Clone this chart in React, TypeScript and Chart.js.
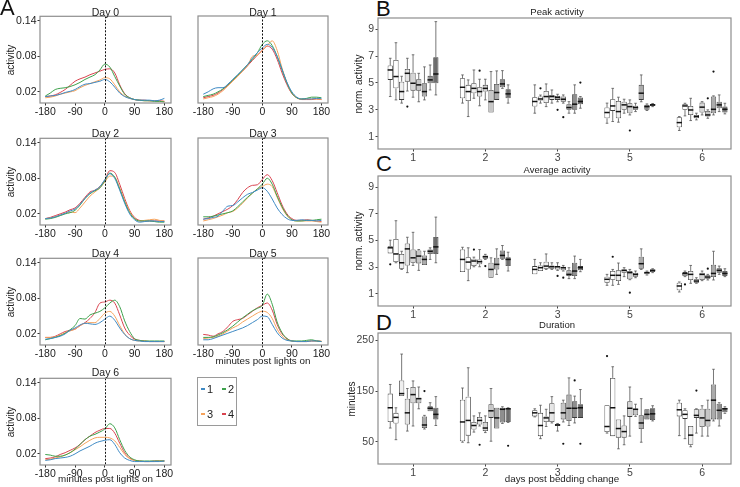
import React, { useEffect, useRef } from 'react';
import { Chart, registerables } from 'chart.js';

Chart.register(...registerables);

const FONT = "'Liberation Sans', Arial, Helvetica, sans-serif";

// ---------------- Panel A: activity curves ----------------
const MINUTES = [-180, -165, -150, -135, -120, -105, -90, -75, -60, -45, -30, -15, 0, 15, 30, 45, 60, 75, 90, 105, 120, 135, 150, 165, 180];
const X_TICKS_A = [-180, -90, 0, 90, 180];
const Y_TICKS_A = [0.02, 0.08, 0.14];
const SERIES_LABELS = ['1', '2', '3', '4'];
const SERIES_COLORS = ['#3f8ac4', '#3da14c', '#f6a35c', '#d9434f'];
const DAY_TITLES = ['Day 0', 'Day 1', 'Day 2', 'Day 3', 'Day 4', 'Day 5', 'Day 6'];

const day0_1 = [0.012, 0.013, 0.014, 0.016, 0.019, 0.021, 0.024, 0.029, 0.033, 0.034, 0.036, 0.038, 0.041, 0.037, 0.028, 0.018, 0.012, 0.009, 0.007, 0.006, 0.006, 0.006, 0.005, 0.006, 0.009];
const day0_2 = [0.013, 0.018, 0.024, 0.026, 0.027, 0.029, 0.032, 0.036, 0.041, 0.045, 0.049, 0.057, 0.067, 0.062, 0.046, 0.030, 0.016, 0.010, 0.007, 0.006, 0.005, 0.005, 0.004, 0.004, 0.003];
const day0_3 = [0.010, 0.011, 0.013, 0.016, 0.018, 0.020, 0.022, 0.027, 0.031, 0.034, 0.037, 0.040, 0.044, 0.042, 0.032, 0.020, 0.013, 0.009, 0.007, 0.006, 0.005, 0.005, 0.005, 0.004, 0.004];
const day0_4 = [0.012, 0.013, 0.015, 0.019, 0.024, 0.031, 0.038, 0.042, 0.045, 0.049, 0.052, 0.055, 0.058, 0.059, 0.052, 0.032, 0.017, 0.010, 0.007, 0.006, 0.006, 0.005, 0.005, 0.005, 0.004];

const day1_1 = [0.016, 0.020, 0.025, 0.027, 0.027, 0.033, 0.041, 0.049, 0.057, 0.066, 0.077, 0.086, 0.094, 0.100, 0.095, 0.080, 0.058, 0.036, 0.020, 0.011, 0.008, 0.008, 0.008, 0.009, 0.009];
const day1_2 = [0.012, 0.014, 0.016, 0.020, 0.025, 0.032, 0.040, 0.048, 0.057, 0.066, 0.075, 0.086, 0.100, 0.106, 0.098, 0.080, 0.057, 0.035, 0.018, 0.010, 0.008, 0.009, 0.011, 0.011, 0.010];
const day1_3 = [0.008, 0.010, 0.012, 0.016, 0.022, 0.030, 0.038, 0.046, 0.055, 0.064, 0.080, 0.082, 0.090, 0.098, 0.106, 0.090, 0.060, 0.035, 0.018, 0.010, 0.008, 0.008, 0.008, 0.008, 0.007];
const day1_4 = [0.010, 0.012, 0.014, 0.018, 0.024, 0.031, 0.039, 0.047, 0.055, 0.064, 0.073, 0.082, 0.090, 0.097, 0.092, 0.075, 0.052, 0.032, 0.017, 0.010, 0.007, 0.007, 0.007, 0.008, 0.007];

const day2_1 = [0.012, 0.013, 0.015, 0.018, 0.021, 0.025, 0.028, 0.036, 0.046, 0.055, 0.060, 0.066, 0.078, 0.088, 0.080, 0.060, 0.038, 0.020, 0.010, 0.006, 0.007, 0.008, 0.008, 0.007, 0.007];
const day2_2 = [0.011, 0.012, 0.014, 0.017, 0.020, 0.022, 0.026, 0.035, 0.046, 0.054, 0.059, 0.064, 0.076, 0.089, 0.082, 0.062, 0.040, 0.022, 0.012, 0.008, 0.008, 0.008, 0.007, 0.006, 0.006];
const day2_3 = [0.012, 0.013, 0.015, 0.018, 0.021, 0.023, 0.022, 0.030, 0.040, 0.050, 0.057, 0.064, 0.074, 0.084, 0.082, 0.064, 0.042, 0.024, 0.012, 0.008, 0.009, 0.010, 0.011, 0.009, 0.008];
const day2_4 = [0.012, 0.014, 0.017, 0.020, 0.023, 0.027, 0.030, 0.038, 0.048, 0.057, 0.060, 0.066, 0.077, 0.093, 0.090, 0.070, 0.046, 0.026, 0.014, 0.009, 0.008, 0.008, 0.008, 0.008, 0.008];

const day3_1 = [0.011, 0.012, 0.014, 0.016, 0.025, 0.033, 0.034, 0.040, 0.047, 0.053, 0.056, 0.060, 0.064, 0.058, 0.045, 0.030, 0.019, 0.012, 0.009, 0.009, 0.010, 0.009, 0.009, 0.008, 0.009];
const day3_2 = [0.015, 0.015, 0.016, 0.018, 0.020, 0.022, 0.025, 0.032, 0.040, 0.048, 0.055, 0.062, 0.070, 0.080, 0.070, 0.050, 0.032, 0.018, 0.010, 0.008, 0.008, 0.009, 0.009, 0.010, 0.011];
const day3_3 = [0.008, 0.010, 0.012, 0.015, 0.018, 0.022, 0.024, 0.030, 0.038, 0.047, 0.055, 0.062, 0.066, 0.070, 0.066, 0.048, 0.030, 0.017, 0.010, 0.008, 0.008, 0.008, 0.008, 0.007, 0.006];
const day3_4 = [0.011, 0.013, 0.016, 0.020, 0.024, 0.028, 0.034, 0.044, 0.056, 0.064, 0.068, 0.069, 0.078, 0.086, 0.076, 0.056, 0.035, 0.020, 0.012, 0.009, 0.009, 0.010, 0.009, 0.008, 0.007];

const day4_1 = [0.011, 0.012, 0.014, 0.016, 0.020, 0.026, 0.030, 0.035, 0.038, 0.037, 0.036, 0.039, 0.045, 0.050, 0.043, 0.030, 0.019, 0.012, 0.009, 0.008, 0.007, 0.007, 0.007, 0.007, 0.007];
const day4_2 = [0.010, 0.012, 0.014, 0.017, 0.021, 0.027, 0.034, 0.046, 0.045, 0.052, 0.055, 0.058, 0.064, 0.072, 0.077, 0.066, 0.042, 0.024, 0.012, 0.009, 0.008, 0.008, 0.008, 0.008, 0.008];
const day4_3 = [0.014, 0.014, 0.015, 0.018, 0.022, 0.025, 0.028, 0.034, 0.038, 0.039, 0.039, 0.046, 0.055, 0.058, 0.050, 0.034, 0.020, 0.012, 0.009, 0.008, 0.008, 0.007, 0.007, 0.007, 0.007];
const day4_4 = [0.014, 0.014, 0.016, 0.020, 0.024, 0.026, 0.028, 0.034, 0.039, 0.046, 0.056, 0.072, 0.074, 0.077, 0.072, 0.052, 0.030, 0.018, 0.011, 0.009, 0.008, 0.007, 0.007, 0.007, 0.007];

const day5_1 = [0.010, 0.010, 0.012, 0.015, 0.018, 0.021, 0.024, 0.027, 0.030, 0.034, 0.039, 0.044, 0.050, 0.049, 0.036, 0.022, 0.013, 0.009, 0.008, 0.007, 0.007, 0.007, 0.008, 0.008, 0.007];
const day5_2 = [0.014, 0.014, 0.015, 0.018, 0.022, 0.027, 0.033, 0.040, 0.047, 0.053, 0.059, 0.063, 0.068, 0.087, 0.070, 0.040, 0.022, 0.012, 0.008, 0.008, 0.008, 0.009, 0.010, 0.008, 0.007];
const day5_3 = [0.012, 0.013, 0.014, 0.016, 0.020, 0.025, 0.030, 0.034, 0.040, 0.045, 0.050, 0.055, 0.058, 0.056, 0.046, 0.028, 0.016, 0.010, 0.008, 0.007, 0.007, 0.007, 0.008, 0.008, 0.008];
const day5_4 = [0.019, 0.018, 0.016, 0.020, 0.024, 0.032, 0.041, 0.044, 0.046, 0.052, 0.058, 0.064, 0.068, 0.072, 0.060, 0.036, 0.020, 0.012, 0.008, 0.007, 0.007, 0.007, 0.008, 0.008, 0.007];

const day6_1 = [0.009, 0.010, 0.012, 0.013, 0.014, 0.016, 0.020, 0.025, 0.029, 0.033, 0.038, 0.041, 0.043, 0.044, 0.036, 0.022, 0.013, 0.009, 0.007, 0.007, 0.007, 0.007, 0.007, 0.007, 0.008];
const day6_2 = [0.019, 0.018, 0.016, 0.016, 0.018, 0.022, 0.028, 0.036, 0.044, 0.050, 0.053, 0.057, 0.062, 0.071, 0.064, 0.044, 0.026, 0.015, 0.010, 0.008, 0.008, 0.008, 0.008, 0.008, 0.008];
const day6_3 = [0.010, 0.011, 0.013, 0.015, 0.018, 0.022, 0.027, 0.032, 0.038, 0.043, 0.047, 0.048, 0.048, 0.047, 0.042, 0.031, 0.019, 0.012, 0.009, 0.008, 0.007, 0.007, 0.007, 0.008, 0.008];
const day6_4 = [0.012, 0.013, 0.015, 0.019, 0.022, 0.026, 0.030, 0.036, 0.044, 0.050, 0.056, 0.060, 0.063, 0.063, 0.055, 0.038, 0.022, 0.013, 0.009, 0.008, 0.007, 0.007, 0.008, 0.008, 0.008];

const DAY_SERIES = [
  [day0_1, day0_2, day0_3, day0_4],
  [day1_1, day1_2, day1_3, day1_4],
  [day2_1, day2_2, day2_3, day2_4],
  [day3_1, day3_2, day3_3, day3_4],
  [day4_1, day4_2, day4_3, day4_4],
  [day5_1, day5_2, day5_3, day5_4],
  [day6_1, day6_2, day6_3, day6_4],
];

// ---------------- Panels B-D: box plots ----------------
const GROUP_LABELS = ['1', '2', '3', '5', '6'];
const BOX_FILLS = ['#ffffff', '#ffffff', '#efefef', '#e6e6e6', '#d6d6d6', '#c6c6c6', '#ababab', '#8e8e8e', '#6c6c6c'];
const NORM_TICKS = [1, 3, 5, 7, 9];
const DUR_TICKS = [50, 150, 250];

// rows = groups (days), columns = box 1..9
const peakHi = [[6.84, 8.0, 5.5, 6.84, 7.1, 5.72, 6.2, 6.34, 9.57], [5.6, 5.23, 5.97, 5.28, 5.28, 5.85, 5.9, 5.92, 4.86], [4.86, 4.1, 4.93, 4.48, 4.16, 4.11, 3.61, 4.86, 3.99], [3.5, 4.6, 3.94, 3.79, 3.74, 3.49, 5.6, 3.44, 3.47], [2.5, 3.49, 3.86, 2.75, 3.61, 3.0, 4.04, 4.11, 3.49]];
const peakQ3 = [[6.3, 6.72, 5.1, 6.05, 5.77, 5.28, 4.98, 5.53, 6.92], [5.35, 4.86, 4.98, 4.68, 4.86, 4.48, 4.93, 5.28, 4.53], [3.94, 3.99, 4.41, 4.11, 4.04, 3.99, 3.42, 4.16, 3.92], [3.17, 3.79, 3.66, 3.6, 3.49, 3.3, 4.86, 3.37, 3.44], [2.45, 3.44, 3.29, 2.62, 3.54, 2.92, 3.99, 3.6, 3.24]];
const peakMed = [[5.97, 5.48, 4.36, 5.72, 4.98, 4.86, 4.36, 5.23, 5.67], [4.68, 4.36, 4.6, 4.36, 4.6, 3.61, 4.29, 4.93, 4.19], [3.62, 3.81, 3.99, 3.99, 3.92, 3.79, 3.17, 3.42, 3.62], [2.8, 3.29, 2.87, 3.37, 3.24, 3.17, 4.24, 3.24, 3.37], [2.05, 3.29, 2.99, 2.5, 3.2, 2.62, 3.04, 3.37, 3.04]];
const peakQ1 = [[5.23, 4.6, 3.74, 5.1, 4.43, 4.43, 3.99, 4.98, 4.98], [3.86, 3.66, 4.24, 3.99, 4.36, 2.8, 3.74, 4.68, 3.86], [3.24, 3.69, 3.5, 3.74, 3.74, 3.61, 3.0, 3.0, 3.42], [2.37, 2.92, 2.37, 3.0, 2.75, 3.0, 3.74, 3.0, 3.29], [1.7, 3.0, 2.62, 2.37, 2.8, 2.5, 2.75, 3.12, 2.8]];
const peakLo = [[3.99, 3.74, 3.5, 4.4, 3.94, 3.6, 3.74, 4.48, 4.11], [3.5, 2.5, 3.86, 3.3, 3.74, 2.8, 3.74, 4.6, 3.5], [2.75, 3.5, 3.24, 3.5, 3.6, 3.5, 2.75, 2.75, 3.12], [2.0, 2.13, 2.08, 2.75, 2.62, 2.87, 3.6, 2.95, 3.24], [1.46, 2.55, 2.2, 2.25, 2.62, 2.37, 2.62, 2.87, 2.7]];
const peakOut = [[0, 3, 3.24], [1, 3, 5.92], [2, 1, 4.6], [2, 4, 3.0], [2, 5, 2.45], [2, 8, 5.03], [3, 4, 1.46], [4, 5, 3.86], [4, 6, 5.85]];

const avgHi = [[5.03, 6.49, 4.2, 5.25, 5.62, 4.33, 4.2, 4.46, 6.76], [4.5, 4.46, 3.76, 4.33, 3.97, 3.71, 4.38, 4.63, 4.13], [3.59, 3.34, 4.0, 3.34, 3.34, 3.14, 2.97, 3.84, 3.59], [2.47, 2.84, 3.32, 2.97, 2.84, 2.72, 4.38, 2.72, 2.89], [1.9, 2.72, 3.14, 2.22, 2.72, 2.47, 4.2, 3.09, 2.89]];
const avgQ3 = [[4.58, 5.12, 4.0, 4.78, 4.33, 4.26, 3.89, 4.33, 5.27], [4.33, 3.76, 3.64, 3.59, 3.89, 3.34, 3.71, 4.26, 3.76], [3.09, 3.14, 3.42, 3.14, 3.09, 3.02, 2.77, 3.34, 3.09], [2.3, 2.72, 2.77, 2.84, 2.72, 2.6, 3.79, 2.67, 2.84], [1.85, 2.64, 2.72, 2.1, 2.6, 2.4, 3.19, 2.92, 2.72]];
const avgMed = [[4.46, 4.0, 3.34, 4.38, 3.71, 3.84, 3.59, 4.2, 4.53], [3.59, 3.39, 3.47, 3.42, 3.79, 2.84, 3.22, 3.89, 3.59], [2.84, 2.97, 3.09, 3.04, 3.04, 2.97, 2.47, 2.72, 2.97], [2.1, 2.4, 2.4, 2.77, 2.6, 2.47, 3.27, 2.6, 2.77], [1.6, 2.52, 2.47, 1.97, 2.47, 2.27, 2.54, 2.77, 2.54]];
const avgQ1 = [[4.04, 3.39, 2.89, 3.14, 3.34, 3.29, 3.17, 4.0, 4.0], [2.64, 2.84, 3.09, 3.22, 3.64, 2.22, 2.84, 3.64, 3.09], [2.47, 2.72, 2.89, 2.89, 2.84, 2.77, 2.35, 2.35, 2.77], [1.85, 2.07, 1.97, 2.6, 2.1, 2.3, 2.89, 2.47, 2.64], [1.28, 2.35, 2.05, 1.85, 2.05, 2.15, 2.27, 2.6, 2.35]];
const avgLo = [[4.04, 3.34, 2.84, 2.6, 3.14, 2.77, 3.17, 3.59, 3.34], [2.64, 2.0, 3.04, 3.04, 3.59, 2.22, 2.47, 3.59, 2.72], [2.47, 2.72, 2.84, 2.84, 2.77, 2.72, 2.15, 2.15, 2.67], [1.65, 1.65, 1.72, 2.3, 2.07, 2.22, 2.84, 2.42, 2.6], [1.15, 2.3, 1.8, 1.8, 2.0, 2.05, 2.05, 2.47, 2.3]];
const avgOut = [[0, 0, 3.22], [1, 2, 4.33], [1, 4, 3.09], [2, 4, 2.35], [2, 5, 2.22], [3, 1, 3.79], [3, 4, 1.1], [4, 1, 1.72], [4, 5, 2.9]];

const durHi = [[163, 117, 223, 155, 170, 158, 102, 127, 139], [156, 196, 101, 107, 101, 155, 117, 119, 117], [115, 122, 114, 139, 86, 132, 176, 140, 153], [122, 198, 94, 101, 158, 124, 135, 114, 121], [132, 115, 81, 115, 121, 132, 193, 127, 119]];
const durQ3 = [[145, 107, 171, 135, 158, 137, 100, 120, 117], [133, 139, 89, 99, 89, 124, 117, 117, 116], [112, 107, 100, 126, 85, 127, 143, 130, 124], [122, 176, 94, 82, 130, 115, 102, 114, 116], [127, 112, 81, 114, 115, 115, 163, 125, 117]];
const durMed = [[117, 98, 145, 107, 143, 135, 83, 116, 104], [89, 92, 82, 92, 77, 111, 97, 114, 115], [107, 82, 97, 107, 83, 107, 116, 116, 117], [80, 117, 76, 70, 116, 114, 87, 104, 105], [113, 104, 63, 102, 97, 92, 132, 112, 115]];
const durQ1 = [[89, 86, 140, 84, 126, 126, 77, 110, 94], [51, 62, 74, 84, 71, 97, 76, 88, 89], [100, 61, 89, 89, 81, 94, 91, 97, 97], [69, 61, 58, 58, 99, 102, 75, 94, 93], [100, 95, 44, 97, 79, 80, 94, 94, 108]];
const durLo = [[77, 54, 140, 71, 81, 115, 75, 110, 82], [49, 48, 69, 81, 68, 51, 76, 86, 88], [99, 56, 80, 87, 71, 89, 82, 87, 97], [67, 61, 36, 44, 61, 100, 49, 94, 91], [62, 56, 40, 67, 61, 61, 91, 81, 106]];
const durOut = [[0, 6, 150], [1, 3, 44], [1, 8, 42], [2, 5, 46], [2, 8, 46], [2, 7, 171], [3, 0, 219], [4, 3, 151]];

// ---------------- plugins ----------------
const frameLine = {
  id: 'frameLine',
  afterDatasetsDraw(chart: any, _args: any, opts: any) {
    const { ctx, chartArea: a } = chart;
    ctx.save();
    if (opts && opts.zeroLine) {
      const x = chart.scales.x.getPixelForValue(0);
      ctx.strokeStyle = '#111';
      ctx.lineWidth = 1;
      ctx.setLineDash([2, 1.5]);
      ctx.beginPath();
      ctx.moveTo(Math.round(x) + 0.5, a.top);
      ctx.lineTo(Math.round(x) + 0.5, a.bottom);
      ctx.stroke();
      ctx.setLineDash([]);
    }
    ctx.strokeStyle = '#8e8e8e';
    ctx.lineWidth = 1.2;
    ctx.strokeRect(a.left, a.top, a.right - a.left, a.bottom - a.top);
    ctx.restore();
  },
};

const boxExtras = {
  id: 'boxExtras',
  afterDatasetsDraw(chart: any) {
    const ctx = chart.ctx;
    const ys = chart.scales.y;
    ctx.save();
    chart.data.datasets.forEach((ds: any, d: number) => {
      const meta = chart.getDatasetMeta(d);
      meta.data.forEach((el: any, g: number) => {
        const st = ds.stats[g];
        const x = el.x;
        const w = el.width;
        const pHi = ys.getPixelForValue(st.hi);
        const pLo = ys.getPixelForValue(st.lo);
        const pQ3 = ys.getPixelForValue(st.q3);
        const pQ1 = ys.getPixelForValue(st.q1);
        const pMed = ys.getPixelForValue(st.med);
        ctx.strokeStyle = '#555';
        ctx.lineWidth = 0.8;
        ctx.beginPath();
        ctx.moveTo(x, pQ3);
        ctx.lineTo(x, pHi);
        ctx.moveTo(x, pQ1);
        ctx.lineTo(x, pLo);
        if (st.hi > st.q3) {
          ctx.moveTo(x - w * 0.25, pHi);
          ctx.lineTo(x + w * 0.25, pHi);
        }
        if (st.lo < st.q1) {
          ctx.moveTo(x - w * 0.25, pLo);
          ctx.lineTo(x + w * 0.25, pLo);
        }
        ctx.stroke();
        ctx.strokeStyle = '#111';
        ctx.lineWidth = 1.5;
        ctx.beginPath();
        ctx.moveTo(x - w / 2, pMed);
        ctx.lineTo(x + w / 2, pMed);
        ctx.stroke();
      });
      const metaData = meta.data;
      ctx.fillStyle = '#111';
      ds.outliers.forEach((o: number[]) => {
        const el = metaData[o[0]];
        if (!el) return;
        ctx.beginPath();
        ctx.arc(el.x, ys.getPixelForValue(o[1]), 1.1, 0, Math.PI * 2);
        ctx.fill();
      });
    });
    ctx.restore();
  },
};

// ---------------- components ----------------
const COL_X = [[40, 171], [198, 328]];
const ROW_Y = [16, 138, 258, 378];
const PLOT_H = 87;
const TICK_FONT = 10.5;

function LinePanel({ index }: { index: number }) {
  const ref = useRef<HTMLCanvasElement>(null);
  const col = index % 2;
  const row = Math.floor(index / 2);
  const x0 = COL_X[col][0];
  const x1 = COL_X[col][1];
  const y0 = ROW_Y[row];
  const yW = col === 0 ? 34 : 0;
  const padL = col === 0 ? 0 : 14;
  const PT = 7;
  const PR = 14;
  const BH = 15;
  const left = x0 - yW - padL;
  const top = y0 - PT;
  const w = x1 - x0 + yW + padL + PR;
  const h = PLOT_H + PT + BH;

  useEffect(() => {
    const series = DAY_SERIES[index];
    const chart = new Chart(ref.current as HTMLCanvasElement, {
      type: 'line',
      data: {
        datasets: series.map((arr, s) => ({
          label: SERIES_LABELS[s],
          data: MINUTES.map((m, k) => ({ x: m, y: arr[k] })),
          borderColor: SERIES_COLORS[s],
          backgroundColor: SERIES_COLORS[s],
          borderWidth: 1,
          pointRadius: 0,
          tension: 0.4,
          cubicInterpolationMode: 'monotone',
          fill: false,
        })),
      },
      options: {
        responsive: false,
        animation: false,
        devicePixelRatio: 1,
        layout: { padding: { left: padL, top: PT, right: PR, bottom: 0 } },
        plugins: {
          legend: { display: false },
          tooltip: { enabled: false },
          frameLine: { zeroLine: true },
        } as any,
        scales: {
          x: {
            type: 'linear',
            min: -196,
            max: 200,
            afterBuildTicks: (s: any) => {
              s.ticks = X_TICKS_A.map((value) => ({ value }));
            },
            afterFit: (s: any) => {
              s.height = BH;
            },
            grid: { display: true, drawOnChartArea: false, drawTicks: true, tickLength: 2.5, tickColor: '#333' },
            border: { display: false },
            ticks: { font: { family: FONT, size: TICK_FONT }, color: '#222', padding: 0, maxRotation: 0, autoSkip: false },
          },
          y: {
            type: 'linear',
            min: 0.0012,
            max: 0.1478,
            afterBuildTicks: (s: any) => {
              s.ticks = Y_TICKS_A.map((value) => ({ value }));
            },
            afterFit: (s: any) => {
              s.width = yW;
            },
            grid: col === 0
              ? { display: true, drawOnChartArea: false, drawTicks: true, tickLength: 2.5, tickColor: '#333' }
              : { display: false },
            border: { display: false },
            ticks: {
              display: col === 0,
              font: { family: FONT, size: TICK_FONT },
              color: '#222',
              padding: 1,
              callback: (v: any) => Number(v).toFixed(2),
            },
          },
        } as any,
      },
      plugins: [frameLine],
    } as any);
    return () => chart.destroy();
  }, [index]);

  return (
    <canvas
      ref={ref}
      width={w}
      height={h}
      style={{ position: 'absolute', left, top, width: w, height: h }}
    />
  );
}

type BoxProps = {
  area: number[];
  yMin: number;
  yMax: number;
  yTicks: number[];
  yW: number;
  hi: number[][];
  q3: number[][];
  med: number[][];
  q1: number[][];
  lo: number[][];
  out: number[][];
};

function BoxPanel(p: BoxProps) {
  const ref = useRef<HTMLCanvasElement>(null);
  const [ax0, ay0, ax1, ay1] = p.area;
  const PT = 8;
  const PR = 8;
  const BH = 15;
  const left = ax0 - p.yW;
  const top = ay0 - PT;
  const w = ax1 - ax0 + p.yW + PR;
  const h = ay1 - ay0 + PT + BH;

  useEffect(() => {
    const chart = new Chart(ref.current as HTMLCanvasElement, {
      type: 'bar',
      data: {
        datasets: BOX_FILLS.map((fill, d) => ({
          label: 'box ' + (d + 1),
          data: GROUP_LABELS.map((_, g) => ({ x: g + 1, y: [p.q1[g][d], p.q3[g][d]] })),
          backgroundColor: fill,
          borderColor: '#3a3a3a',
          borderWidth: 0.8,
          borderSkipped: false,
          categoryPercentage: 0.71,
          barPercentage: 0.92,
          stats: GROUP_LABELS.map((_, g) => ({
            hi: p.hi[g][d],
            q3: p.q3[g][d],
            med: p.med[g][d],
            q1: p.q1[g][d],
            lo: p.lo[g][d],
          })),
          outliers: p.out.filter((o) => o[1] === d).map((o) => [o[0], o[2]]),
        })),
      },
      options: {
        responsive: false,
        animation: false,
        devicePixelRatio: 1,
        layout: { padding: { left: 0, top: PT, right: PR, bottom: 0 } },
        plugins: {
          legend: { display: false },
          tooltip: { enabled: false },
          frameLine: { zeroLine: false },
        } as any,
        scales: {
          x: {
            type: 'linear',
            min: 0.515,
            max: 5.4,
            offset: false,
            afterBuildTicks: (s: any) => {
              s.ticks = GROUP_LABELS.map((_, g) => ({ value: g + 1 }));
            },
            afterFit: (s: any) => {
              s.height = BH;
            },
            grid: { display: true, offset: false, drawOnChartArea: false, drawTicks: true, tickLength: 2.5, tickColor: '#444' },
            border: { display: false },
            ticks: {
              font: { family: FONT, size: TICK_FONT },
              color: '#444',
              padding: 0,
              maxRotation: 0,
              autoSkip: false,
              callback: (v: any) => GROUP_LABELS[Math.round(Number(v)) - 1] ?? '',
            },
          },
          y: {
            type: 'linear',
            min: p.yMin,
            max: p.yMax,
            afterBuildTicks: (s: any) => {
              s.ticks = p.yTicks.map((value) => ({ value }));
            },
            afterFit: (s: any) => {
              s.width = p.yW;
            },
            grid: { display: true, drawOnChartArea: false, drawTicks: true, tickLength: 2.5, tickColor: '#444' },
            border: { display: false },
            ticks: { font: { family: FONT, size: TICK_FONT }, color: '#444', padding: 1.5 },
          },
        } as any,
      },
      plugins: [frameLine, boxExtras],
    } as any);
    return () => chart.destroy();
  }, []);

  return (
    <canvas
      ref={ref}
      width={w}
      height={h}
      style={{ position: 'absolute', left, top, width: w, height: h }}
    />
  );
}

function Label({ x, y, text, size = 9.5, rotate = false, color = '#222' }: { x: number; y: number; text: string; size?: number; rotate?: boolean; color?: string }) {
  return (
    <div
      style={{
        position: 'absolute',
        left: x,
        top: y,
        transform: `translate(-50%, -50%)${rotate ? ' rotate(-90deg)' : ''}`,
        fontFamily: FONT,
        fontSize: size,
        lineHeight: 1,
        whiteSpace: 'nowrap',
        color,
      }}
    >
      {text}
    </div>
  );
}

function Letter({ x, y, text }: { x: number; y: number; text: string }) {
  return (
    <div
      style={{
        position: 'absolute',
        left: x,
        top: y,
        fontFamily: FONT,
        fontSize: 22,
        lineHeight: '22px',
        color: '#111',
      }}
    >
      {text}
    </div>
  );
}

const TITLE_POS = [[105.5, 12], [263, 12], [105.5, 133], [263, 133], [105.5, 253], [263, 253], [105.5, 372]];
const ACT_LABEL_Y = [60, 181.5, 301.5, 421.5];

export default function App() {
  return (
    <div
      style={{
        position: 'absolute',
        left: 0,
        top: 0,
        width: 740,
        height: 487,
        background: '#ffffff',
        overflow: 'hidden',
      }}
    >
      {DAY_TITLES.map((_, i) => (
        <LinePanel key={i} index={i} />
      ))}
      {DAY_TITLES.map((t, i) => (
        <Label key={'t' + i} x={TITLE_POS[i][0]} y={TITLE_POS[i][1]} text={t} size={10.5} />
      ))}
      {ACT_LABEL_Y.map((y, i) => (
        <Label key={'a' + i} x={11} y={y} text="activity" size={10} rotate />
      ))}
      <Label x={263} y={361} text="minutes post lights on" size={9.8} />
      <Label x={105.5} y={479} text="minutes post lights on" size={9.8} />

      {/* legend */}
      <div style={{ position: 'absolute', left: 197, top: 377, width: 40, height: 49, border: '1px solid #9a9a9a', boxSizing: 'border-box' }} />
      {SERIES_LABELS.map((s, i) => {
        const lx = i % 2 === 0 ? 201 : 222;
        const ly = i < 2 ? 389 : 414;
        return (
          <React.Fragment key={'lg' + i}>
            <div style={{ position: 'absolute', left: lx, top: ly - 1, width: 4, height: 2, background: SERIES_COLORS[i] }} />
            <Label x={lx + 9} y={ly} text={s} size={11} />
          </React.Fragment>
        );
      })}

      <Letter x={0} y={-3} text="A" />
      <Letter x={376} y={-2} text="B" />
      <Letter x={376} y={153} text="C" />
      <Letter x={376} y={311.5} text="D" />

      <BoxPanel area={[378, 18, 731, 149]} yMin={0.083} yMax={9.84} yTicks={NORM_TICKS} yW={24} hi={peakHi} q3={peakQ3} med={peakMed} q1={peakQ1} lo={peakLo} out={peakOut} />
      <BoxPanel area={[378, 176, 731, 306]} yMin={0.1} yMax={9.84} yTicks={NORM_TICKS} yW={24} hi={avgHi} q3={avgQ3} med={avgMed} q1={avgQ1} lo={avgLo} out={avgOut} />
      <BoxPanel area={[378, 333, 731, 464]} yMin={6} yMax={264.6} yTicks={DUR_TICKS} yW={24} hi={durHi} q3={durQ3} med={durMed} q1={durQ1} lo={durLo} out={durOut} />

      <Label x={557} y={11.5} text="Peak activity" />
      <Label x={557} y={169.5} text="Average activity" />
      <Label x={557} y={325} text="Duration" />
      <Label x={359} y={83.5} text="norm. activity" size={10} rotate />
      <Label x={359} y={241} text="norm. activity" size={10} rotate />
      <Label x={352} y={398.5} text="minutes" size={10} rotate />
      <Label x={562} y={479} text="days post bedding change" size={9.8} />
    </div>
  );
}
